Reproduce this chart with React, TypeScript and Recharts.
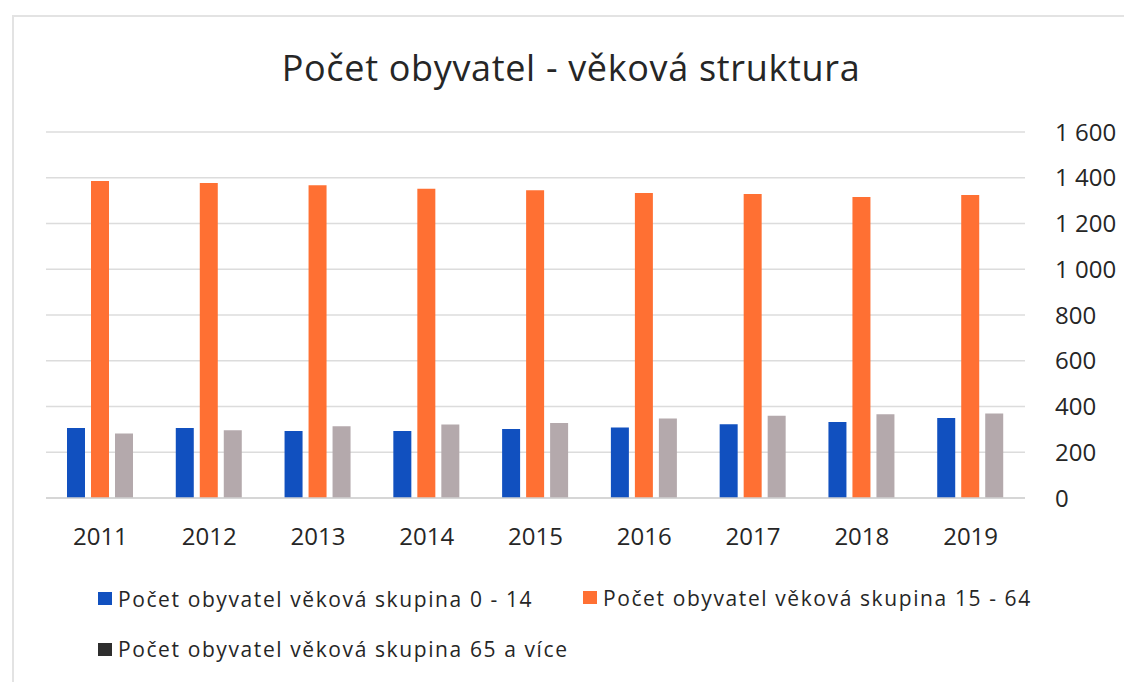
import { BarChart, Bar, XAxis, YAxis, CartesianGrid } from "recharts";

const years = ["2011", "2012", "2013", "2014", "2015", "2016", "2017", "2018", "2019"];
const age0to14 = [306, 306, 293, 293, 302, 308, 322, 332, 350];
const age15to64 = [1386, 1377, 1367, 1352, 1345, 1333, 1329, 1316, 1325];
const age65plus = [282, 296, 314, 321, 328, 347, 360, 366, 369];
const yTicks = [0, 200, 400, 600, 800, 1000, 1200, 1400, 1600];

const series = [
  { key: "young", name: "Počet obyvatel věková skupina 0 - 14", color: "#1150BF", icon: "#1150BF" },
  { key: "adult", name: "Počet obyvatel věková skupina 15 - 64", color: "#FF7033", icon: "#FF7033" },
  { key: "senior", name: "Počet obyvatel věková skupina 65 a více", color: "#B4A9AC", icon: "#2E2E2E" },
];

const data = years.map((year, i) => ({
  year,
  young: age0to14[i],
  adult: age15to64[i],
  senior: age65plus[i],
}));

const FONT = "'Open Sans', sans-serif";

function fmt(v: number) {
  return v.toLocaleString("en-US").replace(/,/g, " ");
}

function LegendItem({ s }: { s: (typeof series)[number] }) {
  return (
    <span style={{ display: "inline-flex", alignItems: "center" }}>
      <span
        style={{
          width: 14,
          height: 13,
          background: s.icon,
          marginRight: 6,
          display: "inline-block",
        }}
      />
      {s.name}
    </span>
  );
}

export default function App() {
  return (
    <div
      style={{
        position: "absolute",
        left: 0,
        top: 0,
        width: 1124,
        height: 682,
        background: "#fff",
        fontFamily: FONT,
        overflow: "hidden",
      }}
    >
      <div
        style={{
          position: "absolute",
          left: 12,
          top: 15,
          right: 0,
          bottom: 0,
          borderLeft: "2px solid #e3e3e3",
          borderTop: "2px solid #e3e3e3",
        }}
      />
      <div
        style={{
          position: "absolute",
          left: 0,
          width: 1142,
          top: 50,
          textAlign: "center",
          fontSize: 36,
          lineHeight: "36px",
          letterSpacing: 0.67,
          color: "#262626",
        }}
      >
        Počet obyvatel - věková struktura
      </div>
      <div style={{ position: "absolute", left: 0, top: 0 }}>
        <BarChart
          width={1124}
          height={682}
          data={data}
          margin={{ top: 132, right: 29, bottom: 144, left: 46 }}
          barSize={18}
          barGap={6}
        >
          <CartesianGrid vertical={false} stroke="#dcdcdc" strokeWidth={1.5} />
          <XAxis
            dataKey="year"
            height={40}
            tickSize={0}
            tickMargin={30}
            axisLine={{ stroke: "#d0d0d0", strokeWidth: 1.5 }}
            tick={{ fontSize: 24, fill: "#262626", fontFamily: FONT }}
          />
          <YAxis
            orientation="right"
            width={70}
            domain={[0, 1600]}
            ticks={yTicks}
            tickFormatter={fmt}
            axisLine={false}
            tickLine={false}
            tickSize={0}
            tickMargin={30}
            tick={{ fontSize: 24, fill: "#262626", fontFamily: FONT }}
          />
          {series.map((s) => (
            <Bar key={s.key} dataKey={s.key} name={s.name} fill={s.color} isAnimationActive={false} />
          ))}
        </BarChart>
      </div>
      <div
        style={{
          position: "absolute",
          left: 98,
          top: 582,
          fontSize: 21,
          letterSpacing: 1.6,
          color: "#262626",
          lineHeight: "30px",
        }}
      >
        <div style={{ display: "flex" }}>
          <span style={{ width: 485 }}>
            <LegendItem s={series[0]} />
          </span>
          <LegendItem s={series[1]} />
        </div>
        <div style={{ marginTop: 19 }}>
          <LegendItem s={series[2]} />
        </div>
      </div>
    </div>
  );
}
